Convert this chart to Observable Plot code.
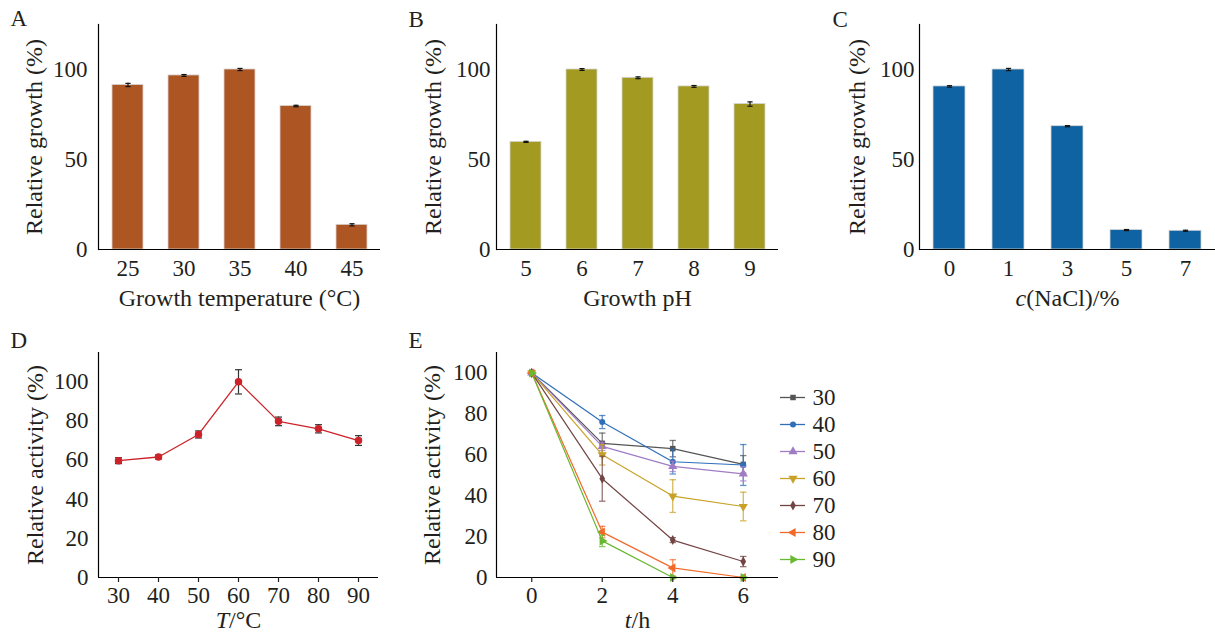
<!DOCTYPE html>
<html><head><meta charset="utf-8">
<script src="https://cdn.jsdelivr.net/npm/d3@7"></script>
<script src="https://cdn.jsdelivr.net/npm/@observablehq/plot@0.6"></script>
<style>
body{margin:0;background:#fff;}
#wrap{position:relative;width:1215px;height:634px;overflow:hidden;background:#fff;}
#wrap svg{position:absolute;}
</style></head><body><div id="wrap"></div>
<script>
// ---------- data ----------
const tempCats = ["25", "30", "35", "40", "45"];
const tempGrowth = [91.4, 96.7, 100, 79.7, 13.7];
const tempErr = [0.9, 0.5, 0.6, 0.4, 0.6];

const phCats = ["5", "6", "7", "8", "9"];
const phGrowth = [59.8, 100, 95.4, 90.6, 80.8];
const phErr = [0.3, 0.5, 0.5, 0.5, 1.2];

const naclCats = ["0", "1", "3", "5", "7"];
const naclGrowth = [90.6, 100, 68.5, 10.8, 10.4];
const naclErr = [0.4, 0.6, 0.3, 0.3, 0.3];

const actTemps = [30, 40, 50, 60, 70, 80, 90];
const actValues = [59.7, 61.6, 73.1, 100, 79.8, 76.0, 70.0];
const actErr = [1.5, 1.0, 1.8, 6.2, 2.2, 2.1, 2.5];

const times = [0, 2, 4, 6];
const seriesNames = ["30", "40", "50", "60", "70", "80", "90"];
const stab30 = [100, 65.6, 63.0, 55.3];
const stab40 = [100, 76.0, 56.6, 55.0];
const stab50 = [100, 64.1, 54.3, 50.7];
const stab60 = [100, 60.0, 39.8, 34.7];
const stab70 = [100, 48.3, 18.3, 7.8];
const stab80 = [100, 22.2, 4.7, 0];
const stab90 = [100, 17.9, 0, 0];
const err30 = [0, 5.0, 4.0, 4.3];
const err40 = [0, 3.2, 6.0, 10.0];
const err50 = [0, 2.0, 2.5, 3.5];
const err60 = [0, 5.0, 8.0, 7.0];
const err70 = [0, 11.0, 1.2, 2.5];
const err80 = [0, 2.8, 4.0, 0];
const err90 = [0, 2.8, 0, 0];
const stabValues = [stab30, stab40, stab50, stab60, stab70, stab80, stab90];
const stabErrs = [err30, err40, err50, err60, err70, err80, err90];

// ---------- styling ----------
const FONT = "'Liberation Serif', 'Times New Roman', serif";
const TXT = "#231f20";
const seriesColors = ["#555555", "#2f6fba", "#a07cc5", "#c8a228", "#734444", "#f26a2a", "#68b830"];

const cap = {draw(ctx, size) { const w = Math.sqrt(size / Math.PI); ctx.moveTo(-w, 0); ctx.lineTo(w, 0); }};
const tri = (rot) => ({draw(ctx, size) {
  const R = Math.sqrt(size / 1.299);
  for (let k = 0; k < 3; k++) {
    const a = rot + k * 2 * Math.PI / 3;
    const px = R * Math.sin(a), py = -R * Math.cos(a);
    if (k) ctx.lineTo(px, py); else ctx.moveTo(px, py);
  }
  ctx.closePath();
}});
const seriesSymbols = ["square", "circle", tri(0), tri(Math.PI), "diamond", tri(-Math.PI / 2), tri(Math.PI / 2)];
const seriesR = [3.1, 3.0, 3.4, 3.4, 3.0, 3.4, 3.4];

const wrap = document.getElementById("wrap");
function place(svg, left, top) { svg.style.left = left + "px"; svg.style.top = top + "px"; wrap.appendChild(svg); return svg; }
function italicize(svg, full, html) { svg.querySelectorAll("text").forEach(t => { if (t.textContent === full) t.innerHTML = html; }); }
const baseStyle = {fontFamily: FONT, fontSize: "23px", color: TXT, background: "transparent", overflow: "visible"};

function labels(o) {
  return [
    Plot.text([o.ylabel], {text: d => d, frameAnchor: "left", rotate: -90, textAnchor: "middle", lineAnchor: "middle", dx: o.ydx, fontSize: 24, fill: TXT}),
    Plot.text([o.xlabel], {text: d => d, frameAnchor: "bottom", textAnchor: "middle", lineAnchor: "top", dy: o.xdy, fontSize: 24, fill: TXT}),
    Plot.text([o.letter], {text: d => d, frameAnchor: "top-left", textAnchor: "start", lineAnchor: "top", dx: o.ldx, dy: o.ldy, fontSize: 23, fill: TXT})
  ];
}

function barPanel(o) {
  const rows = o.cats.map((c, i) => ({c, v: o.vals[i], e: o.errs[i]}));
  return Plot.plot({
    width: o.width, height: o.height,
    marginLeft: o.ml, marginRight: o.mr, marginTop: o.mt, marginBottom: o.mb,
    style: baseStyle,
    x: {type: "band", domain: o.cats, paddingInner: 0.45, paddingOuter: 0.225},
    y: {domain: [0, 125]},
    marks: [
      Plot.barY(rows, {x: "c", y: "v", fill: o.color, stroke: "#d6d6d6", strokeWidth: 0.8}),
      Plot.ruleX(rows, {x: "c", y1: d => d.v - d.e, y2: d => d.v + d.e, stroke: "#111", strokeWidth: 1.2}),
      Plot.dot(rows, {x: "c", y: d => d.v + d.e, symbol: cap, r: 2.6, stroke: "#111", fill: "none", strokeWidth: 1.2}),
      Plot.dot(rows, {x: "c", y: d => d.v - d.e, symbol: cap, r: 2.6, stroke: "#111", fill: "none", strokeWidth: 1.2}),
      Plot.frame({anchor: "left", stroke: "#000", strokeWidth: 1.2}),
      Plot.ruleY([0], {stroke: "#000", strokeWidth: 1.2}),
      Plot.axisX({tickSize: 0, tickPadding: 10, fontSize: 23, label: null}),
      Plot.axisY({ticks: [0, 50, 100], tickSize: 0, tickPadding: o.ytp, fontSize: 23, label: null}),
      ...labels(o)
    ]
  });
}

// Panel A
place(barPanel({cats: tempCats, vals: tempGrowth, errs: tempErr, color: "#ad5523",
  width: 400, height: 320, ml: 98, mr: 20, mt: 24, mb: 71, ytp: 11,
  ylabel: "Relative growth (%)", xlabel: "Growth temperature (°C)", letter: "A",
  ydx: -64.5, xdy: 39, ldx: -88, ldy: -15}), 0, 0);

// Panel B
place(barPanel({cats: phCats, vals: phGrowth, errs: phErr, color: "#a39a22",
  width: 400, height: 320, ml: 96, mr: 22, mt: 24, mb: 71, ytp: 6,
  ylabel: "Relative growth (%)", xlabel: "Growth pH", letter: "B",
  ydx: -63, xdy: 39, ldx: -88, ldy: -14}), 400, 0);

// Panel C
const svgC = place(barPanel({cats: naclCats, vals: naclGrowth, errs: naclErr, color: "#0f63a2",
  width: 405, height: 320, ml: 109, mr: 0, mt: 24, mb: 71, ytp: 5,
  ylabel: "Relative growth (%)", xlabel: "c(NaCl)/%", letter: "C",
  ydx: -62, xdy: 39, ldx: -87, ldy: -14}), 810, 0);
italicize(svgC, "c(NaCl)/%", '<tspan font-style="italic">c</tspan>(NaCl)/%');

// Panel D
const actRows = actTemps.map((t, i) => ({t, v: actValues[i], e: actErr[i]}));
const svgD = place(Plot.plot({
  width: 400, height: 314, marginLeft: 98, marginRight: 22, marginTop: 32, marginBottom: 57,
  style: baseStyle,
  x: {domain: [25, 95]},
  y: {domain: [0, 115]},
  marks: [
    Plot.ruleX(actRows, {x: "t", y1: d => d.v - d.e, y2: d => d.v + d.e, stroke: "#333", strokeWidth: 1.2}),
    Plot.dot(actRows, {x: "t", y: d => d.v + d.e, symbol: cap, r: 3.5, stroke: "#333", fill: "none", strokeWidth: 1.2}),
    Plot.dot(actRows, {x: "t", y: d => d.v - d.e, symbol: cap, r: 3.5, stroke: "#333", fill: "none", strokeWidth: 1.2}),
    Plot.line(actRows, {x: "t", y: "v", stroke: "#cc2229", strokeWidth: 1.3}),
    Plot.dot(actRows, {x: "t", y: "v", r: 3.0, fill: "#cc2229", stroke: "#cc2229"}),
    Plot.ruleX([25], {stroke: "#000", strokeWidth: 1.2}),
    Plot.ruleY([0], {stroke: "#000", strokeWidth: 1.2}),
    Plot.axisX({ticks: actTemps, tickSize: 5, tickPadding: 4, fontSize: 23, label: null, strokeWidth: 1.2}),
    Plot.axisY({ticks: [0, 20, 40, 60, 80, 100], tickSize: 0, tickPadding: 10, fontSize: 23, label: null}),
    ...labels({ylabel: "Relative activity (%)", xlabel: "T/°C", letter: "D", ydx: -63, xdy: 33, ldx: -88, ldy: -21})
  ]
}), 0, 320);
italicize(svgD, "T/°C", '<tspan font-style="italic">T</tspan>/°C');

// Panel E
const eMarks = [];
seriesNames.forEach((s, k) => {
  const rows = times.map((t, i) => ({t, v: stabValues[k][i], e: stabErrs[k][i]}));
  const errRows = rows.filter(d => d.e > 0);
  const col = seriesColors[k];
  eMarks.push(
    Plot.ruleX(errRows, {x: "t", y1: d => d.v - d.e, y2: d => d.v + d.e, stroke: col, strokeOpacity: 0.75, strokeWidth: 1.3}),
    Plot.dot(errRows, {x: "t", y: d => d.v + d.e, symbol: cap, r: 3.2, stroke: col, strokeOpacity: 0.75, fill: "none", strokeWidth: 1.3}),
    Plot.dot(errRows, {x: "t", y: d => d.v - d.e, symbol: cap, r: 3.2, stroke: col, strokeOpacity: 0.75, fill: "none", strokeWidth: 1.3}),
    Plot.line(rows, {x: "t", y: "v", stroke: col, strokeWidth: 1.2}),
    Plot.dot(rows, {x: "t", y: "v", symbol: seriesSymbols[k], r: seriesR[k], fill: col, stroke: "none"})
  );
});
const svgE = place(Plot.plot({
  width: 380, height: 314, marginLeft: 96, marginRight: 2, marginTop: 32, marginBottom: 57,
  style: baseStyle,
  x: {domain: [-1, 7]},
  y: {domain: [0, 110]},
  marks: [
    ...eMarks,
    Plot.ruleX([-1], {stroke: "#000", strokeWidth: 1.2}),
    Plot.ruleY([0], {stroke: "#000", strokeWidth: 1.2}),
    Plot.axisX({ticks: times, tickSize: 5, tickPadding: 4, fontSize: 23, label: null, strokeWidth: 1.2}),
    Plot.axisY({ticks: [0, 20, 40, 60, 80, 100], tickSize: 0, tickPadding: 9, fontSize: 23, label: null}),
    ...labels({ylabel: "Relative activity (%)", xlabel: "t/h", letter: "E", ydx: -64, xdy: 33, ldx: -88, ldy: -21})
  ]
}), 400, 320);
italicize(svgE, "t/h", '<tspan font-style="italic">t</tspan>/h');

// Legend for E
const legMarks = [];
seriesNames.forEach((s, k) => {
  legMarks.push(
    Plot.ruleY([s], {y: d => d, stroke: seriesColors[k], strokeWidth: 1.3}),
    Plot.dot([s], {y: d => d, symbol: seriesSymbols[k], r: seriesR[k], fill: seriesColors[k], stroke: "none"}),
    Plot.text([s], {y: d => d, text: d => d, frameAnchor: "right", textAnchor: "start", lineAnchor: "middle", dx: 7, fontSize: 23, fill: TXT})
  );
});
place(Plot.plot({
  width: 90, height: 210, marginLeft: 10, marginRight: 55, marginTop: 10, marginBottom: 5,
  style: baseStyle,
  y: {type: "point", domain: seriesNames, padding: 0.5, axis: null},
  marks: legMarks
}), 770, 370);
</script></body></html>
